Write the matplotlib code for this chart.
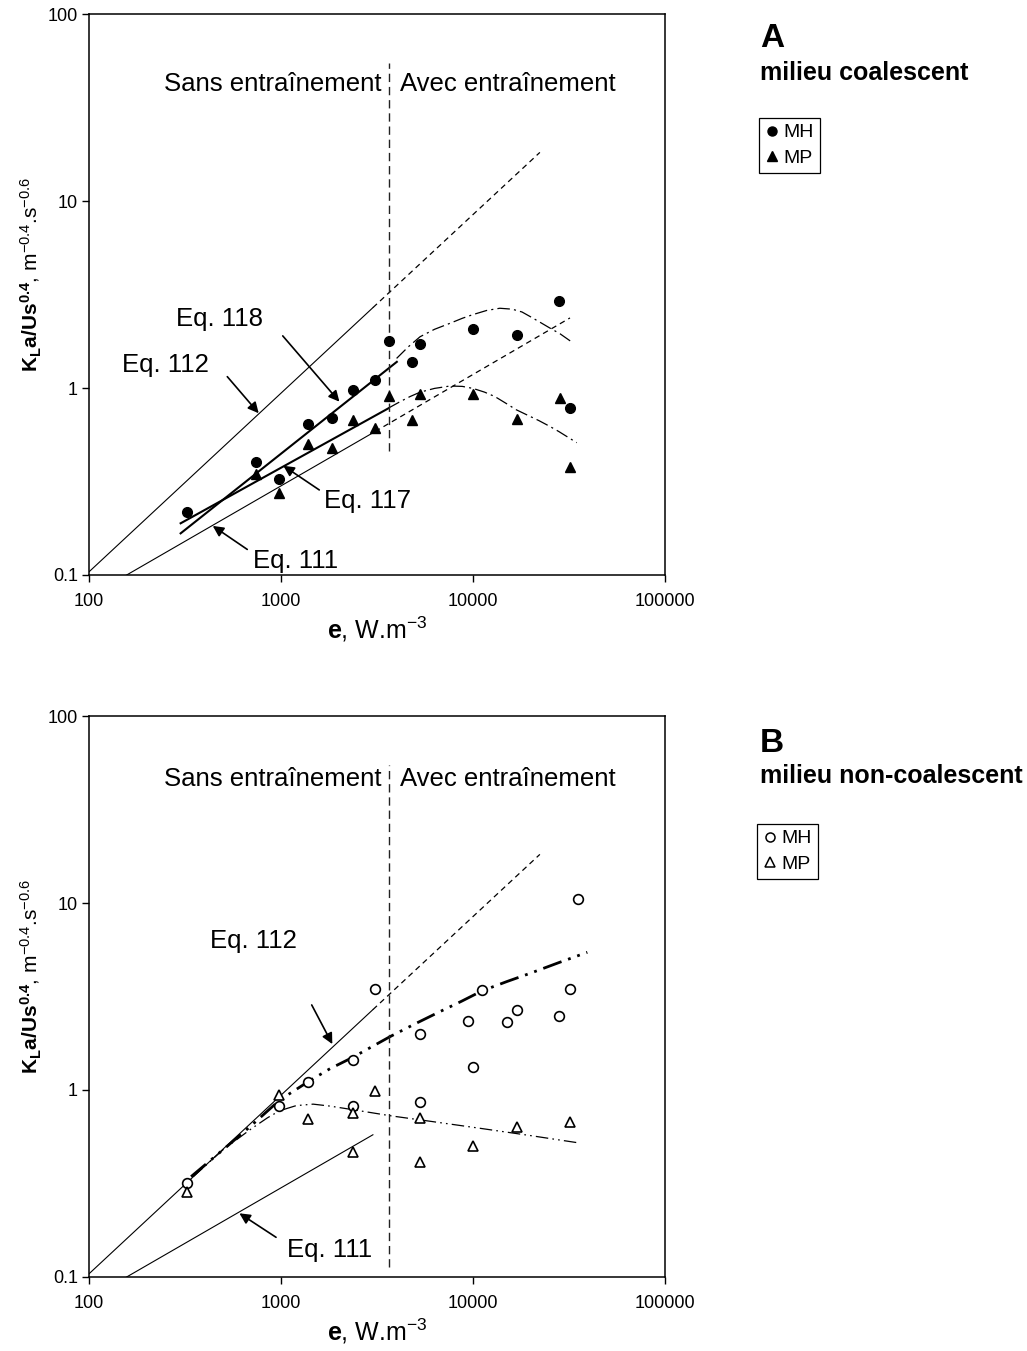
import matplotlib
matplotlib.use("Agg")
import matplotlib.pyplot as plt
from matplotlib.lines import Line2D

plt.rcParams['font.family'] = ['Liberation Sans', 'DejaVu Sans']
plt.rcParams['mathtext.fontset'] = 'custom'
plt.rcParams['mathtext.rm'] = 'Liberation Sans'
plt.rcParams['mathtext.bf'] = 'Liberation Sans:bold'
plt.rcParams['mathtext.it'] = 'Liberation Sans:italic'
plt.rcParams['mathtext.default'] = 'regular'
plt.rcParams['lines.scale_dashes'] = False

# ---------------- data : panel A (milieu coalescent) ----------------
a_mh_x = [325, 740, 975, 1390, 1840, 2360, 3090, 3660, 4800, 5320, 10000, 17000, 28000, 32000]
a_mh_y = [0.217, 0.40, 0.325, 0.64, 0.69, 0.98, 1.10, 1.78, 1.37, 1.71, 2.07, 1.91, 2.93, 0.785]
a_mp_x = [740, 975, 1390, 1840, 2360, 3090, 3660, 4800, 5320, 10000, 17000, 28300, 32000]
a_mp_y = [0.345, 0.273, 0.50, 0.478, 0.675, 0.61, 0.91, 0.675, 0.93, 0.93, 0.68, 0.887, 0.38]

# fitted trend curves (dash-dot), panel A
a_mh_fit_x = [4000, 4600, 5300, 6300, 7600, 8800, 10000, 11800, 13800, 16000, 18000, 20000, 22300, 25000, 28400, 33000]
a_mh_fit_y = [1.44, 1.66, 1.88, 2.06, 2.22, 2.36, 2.47, 2.60, 2.67, 2.64, 2.55, 2.40, 2.25, 2.10, 1.95, 1.75]
a_mp_fit_x = [3620, 4170, 4700, 5300, 6300, 7600, 8800, 10000, 11500, 13000, 14800, 16800, 19000, 22000, 25000, 28000, 34700]
a_mp_fit_y = [0.78, 0.845, 0.90, 0.95, 0.995, 1.025, 1.02, 0.995, 0.95, 0.9, 0.83, 0.765, 0.72, 0.67, 0.625, 0.585, 0.51]

# correlation lines
eq112_x = [100, 3010]
eq112_y = [0.104, 2.69]
eq112_ext_x = [3010, 22300]
eq112_ext_y = [2.69, 18.2]
eq111_x = [140, 3090]
eq111_y = [0.0934, 0.585]
eq111_ext_x = [3090, 32000]
eq111_ext_y = [0.585, 2.37]
eq118_x = [300, 4010]
eq118_y = [0.167, 1.38]
eq117_x = [300, 3620]
eq117_y = [0.189, 0.778]

# ---------------- data : panel B (milieu non-coalescent) ----------------
b_mh_x = [325, 980, 1390, 2360, 2360, 3100, 5320, 5320, 9400, 10000, 11150, 15000, 16900, 28100, 32000, 35300]
b_mh_y = [0.319, 0.82, 1.11, 1.445, 0.82, 3.46, 1.99, 0.863, 2.34, 1.32, 3.43, 2.32, 2.68, 2.49, 3.47, 10.5]
b_mp_x = [325, 980, 1390, 2360, 2360, 3090, 5320, 5320, 10000, 16900, 32000]
b_mp_y = [0.283, 0.94, 0.70, 0.75, 0.465, 0.99, 0.706, 0.41, 0.50, 0.637, 0.671]

b_mh_fit_x = [340, 500, 690, 985, 1390, 1800, 2350, 3700, 5000, 6700, 8700, 11150, 15000, 20000, 28000, 39400]
b_mh_fit_y = [0.344, 0.48, 0.637, 0.884, 1.11, 1.30, 1.49, 1.93, 2.26, 2.62, 2.98, 3.39, 3.80, 4.22, 4.80, 5.45]
b_mp_fit_x = [349, 500, 700, 850, 985, 1200, 1470, 1800, 2360, 3780, 6000, 10870, 20000, 36100]
b_mp_fit_y = [0.344, 0.48, 0.62, 0.71, 0.775, 0.825, 0.84, 0.82, 0.785, 0.726, 0.68, 0.624, 0.57, 0.52]

eq111b_x = [140, 3010]
eq111b_y = [0.0934, 0.576]

regime_x = 3650
x_ticks = [100, 1000, 10000, 100000]
x_ticklabels = ['100', '1000', '10000', '100000']
y_ticks = [0.1, 1, 10, 100]
y_ticklabels = ['0.1', '1', '10', '100']

fig = plt.figure(figsize=(10.27, 13.51), dpi=100)
axA = fig.add_axes([0.0867, 0.5744, 0.5608, 0.4152])
axB = fig.add_axes([0.0867, 0.0548, 0.5608, 0.4152])

short_dash = (0, (4, 3))
vdash = (0, (6, 3.5))
dashdot = (0, (9, 3, 1.5, 3))
dashdotdot_thick = (0, (14, 5, 2, 5, 2, 5))
dashdotdot_thin = (0, (9, 3, 1.2, 3, 1.2, 3))

ylabel = r'$\mathbf{K_La/Us^{0.4}}$, m$^{-0.4}$.s$^{-0.6}$'
xlabel = r'$\mathbf{e}$, W.m$^{-3}$'


def style_axes(ax):
    ax.set_xscale('log')
    ax.set_yscale('log')
    ax.set_xlim(100, 100000)
    ax.set_ylim(0.1, 100)
    ax.set_xticks(x_ticks)
    ax.set_xticklabels(x_ticklabels)
    ax.set_yticks(y_ticks)
    ax.set_yticklabels(y_ticklabels)
    ax.minorticks_off()
    ax.tick_params(direction='out', length=5, width=1.0, labelsize=13)
    ax.tick_params(axis='x', pad=8)
    ax.tick_params(axis='y', pad=3)
    for s in ax.spines.values():
        s.set_linewidth(1.1)
    ax.set_ylabel(ylabel, fontsize=15)
    ax.yaxis.set_label_coords(-0.078, 0.535)
    ax.set_xlabel(xlabel, fontsize=18, labelpad=3)


arrow_kw = dict(arrowstyle='-|>', color='black', lw=1.2, mutation_scale=16, shrinkA=0, shrinkB=0)

# ---------------- Panel A ----------------
ax = axA
style_axes(ax)
ax.plot(eq112_x, eq112_y, color='black', lw=0.8)
ax.plot(eq112_ext_x, eq112_ext_y, color='black', lw=0.9, ls=short_dash)
ax.plot(eq111_x, eq111_y, color='black', lw=0.8)
ax.plot(eq111_ext_x, eq111_ext_y, color='black', lw=0.9, ls=short_dash)
ax.plot(eq118_x, eq118_y, color='black', lw=1.5)
ax.plot(eq117_x, eq117_y, color='black', lw=1.5)
ax.plot(a_mh_fit_x, a_mh_fit_y, color='black', lw=0.9, ls=dashdot)
ax.plot(a_mp_fit_x, a_mp_fit_y, color='black', lw=0.9, ls=dashdot)
ax.plot([regime_x, regime_x], [0.46, 55], color='#222222', lw=1.0, ls=vdash)
ax.plot(a_mh_x, a_mh_y, ls='none', marker='o', ms=7, color='black')
ax.plot(a_mp_x, a_mp_y, ls='none', marker='^', ms=7.5, color='black')

ax.text(0.508, 0.863, 'Sans entraînement', transform=ax.transAxes, ha='right', va='baseline', fontsize=18.5)
ax.text(0.540, 0.863, 'Avec entraînement', transform=ax.transAxes, ha='left', va='baseline', fontsize=18.5)

ax.text(284, 2.146, 'Eq. 118', fontsize=18.5, va='baseline')
ax.annotate('', xy=(2014, 0.845), xytext=(1021, 1.90), arrowprops=arrow_kw)
ax.text(148, 1.222, 'Eq. 112', fontsize=18.5, va='baseline')
ax.annotate('', xy=(765, 0.733), xytext=(525, 1.15), arrowprops=arrow_kw)
ax.text(1675, 0.228, 'Eq. 117', fontsize=18.5, va='baseline')
ax.annotate('', xy=(1028, 0.384), xytext=(1582, 0.285), arrowprops=arrow_kw)
ax.text(718, 0.1086, 'Eq. 111', fontsize=18.5, va='baseline')
ax.annotate('', xy=(441, 0.183), xytext=(667, 0.137), arrowprops=arrow_kw)

# ---------------- Panel B ----------------
ax = axB
style_axes(ax)
ax.plot(eq112_x, eq112_y, color='black', lw=0.8)
ax.plot(eq112_ext_x, eq112_ext_y, color='black', lw=0.9, ls=short_dash)
ax.plot(eq111b_x, eq111b_y, color='black', lw=0.8)
ax.plot(b_mh_fit_x, b_mh_fit_y, color='black', lw=2.0, ls=dashdotdot_thick)
ax.plot(b_mp_fit_x, b_mp_fit_y, color='black', lw=0.9, ls=dashdotdot_thin)
ax.plot([regime_x, regime_x], [0.113, 55], color='#222222', lw=1.0, ls=vdash)
ax.plot(b_mh_x, b_mh_y, ls='none', marker='o', ms=7, mfc='white', mec='black', mew=1.2)
ax.plot(b_mp_x, b_mp_y, ls='none', marker='^', ms=7, mfc='white', mec='black', mew=1.2)

ax.text(0.508, 0.875, 'Sans entraînement', transform=ax.transAxes, ha='right', va='baseline', fontsize=18.5)
ax.text(0.540, 0.875, 'Avec entraînement', transform=ax.transAxes, ha='left', va='baseline', fontsize=18.5)

ax.text(427, 5.74, 'Eq. 112', fontsize=18.5, va='baseline')
ax.annotate('', xy=(1850, 1.76), xytext=(1445, 2.85), arrowprops=arrow_kw)
ax.text(1071, 0.1285, 'Eq. 111', fontsize=18.5, va='baseline')
ax.annotate('', xy=(607, 0.219), xytext=(942, 0.163), arrowprops=arrow_kw)

# ---------------- side titles and legends ----------------
fig.text(0.740, 0.9654, 'A', fontsize=24, fontweight='bold', va='baseline')
fig.text(0.740, 0.9408, 'milieu coalescent', fontsize=18, fontweight='bold', va='baseline')
fig.text(0.740, 0.4436, 'B', fontsize=24, fontweight='bold', va='baseline')
fig.text(0.740, 0.4202, 'milieu non-coalescent', fontsize=18, fontweight='bold', va='baseline')


def add_legend(ax, filled, anchor):
    if filled:
        h = [Line2D([], [], ls='none', marker='o', ms=6.5, color='black'),
             Line2D([], [], ls='none', marker='^', ms=6.5, color='black')]
    else:
        h = [Line2D([], [], ls='none', marker='o', ms=6.5, mfc='white', mec='black', mew=1.1),
             Line2D([], [], ls='none', marker='^', ms=6.5, mfc='white', mec='black', mew=1.1)]
    leg = ax.legend(h, ['MH', 'MP'], loc='upper left', bbox_to_anchor=anchor,
                    bbox_transform=fig.transFigure, fontsize=14, frameon=True,
                    fancybox=False, shadow=False, framealpha=1, edgecolor='black',
                    handlelength=0.7, handletextpad=0.26, labelspacing=0.42,
                    borderpad=0.3, borderaxespad=0)
    leg.get_frame().set_linewidth(0.9)


add_legend(axA, True, (0.739, 0.9127))
add_legend(axB, False, (0.737, 0.3901))

fig.savefig('out.png', dpi=100)
